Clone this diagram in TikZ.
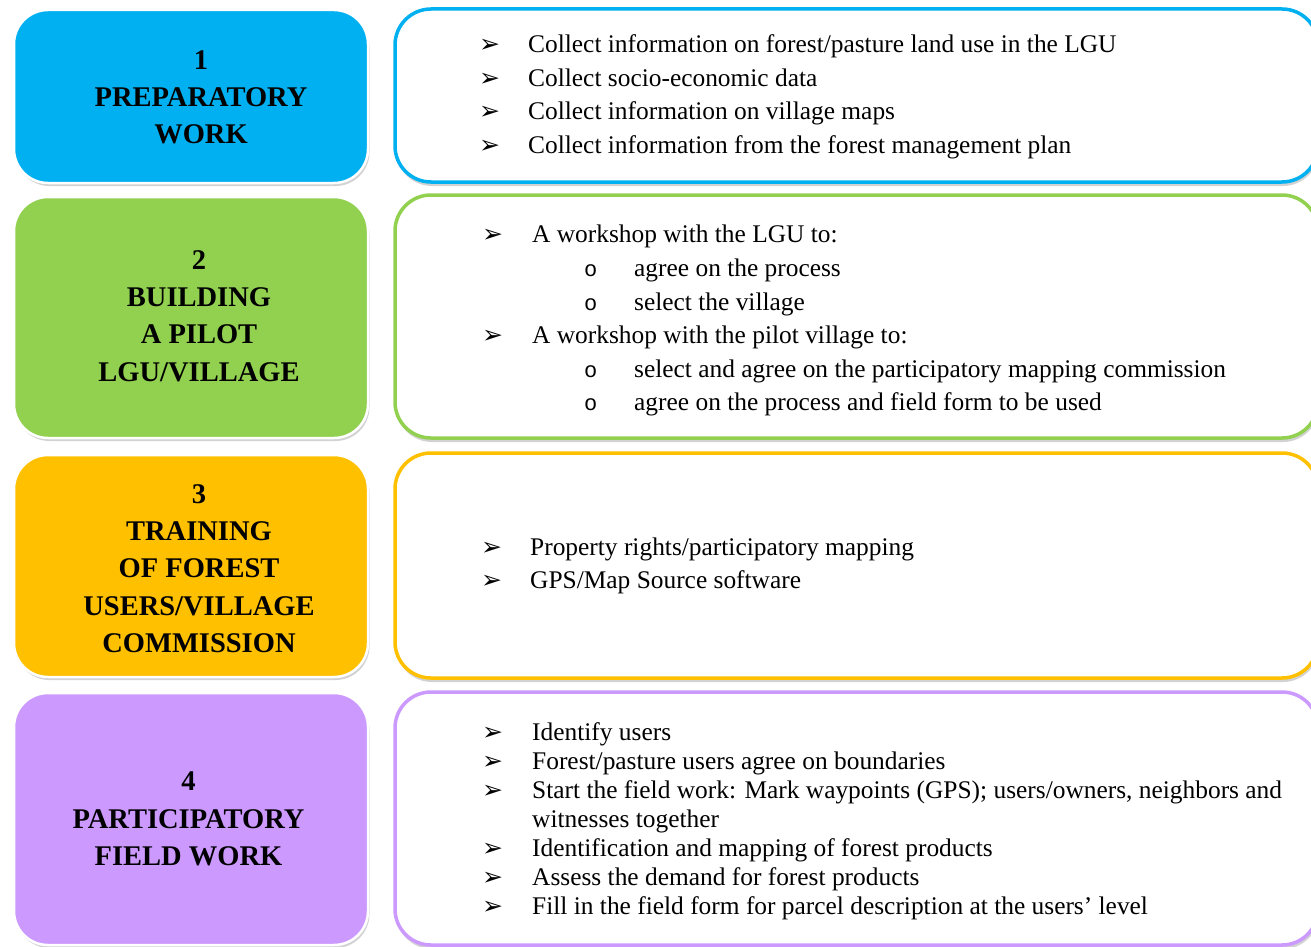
\documentclass[tikz,border=0pt]{standalone}
\usepackage{fontspec}
\setmainfont{Liberation Serif}
\newfontfamily\dvfont{DejaVu Sans}
\newfontfamily\circfont{Liberation Mono}
\usetikzlibrary{shadows}
\definecolor{cblue}{HTML}{00B0F0}
\definecolor{cgreen}{HTML}{92D050}
\definecolor{corange}{HTML}{FFC000}
\definecolor{cpurple}{HTML}{CC99FF}
\tikzset{
  lbox/.style={rectangle, rounded corners=34pt, draw=white, line width=2.5pt, inner sep=0pt,
    drop shadow={opacity=0.35, shadow xshift=1.5pt, shadow yshift=-3pt}},
  rbox/.style={rectangle, rounded corners=36pt, fill=white, line width=3.5pt, inner sep=0pt,
    drop shadow={opacity=0.35, shadow xshift=1pt, shadow yshift=-4pt}},
  ltext/.style={align=center, inner sep=0pt, font=\bfseries\fontsize{28.5}{37.3}\selectfont},
  bul/.style={anchor=base west, inner sep=0pt, font=\dvfont\fontsize{25}{28}\selectfont},
  itm/.style={anchor=base west, inner sep=0pt, font=\fontsize{25.4}{30}\selectfont},
  subb/.style={anchor=base west, inner sep=0pt, font=\circfont\fontsize{22}{25}\selectfont},
}
\newcommand{\arrowbul}{➢}
\begin{document}
\begin{tikzpicture}[x=1pt,y=-1pt]
\useasboundingbox (0,0) rectangle (1311,947);
\clip (0,0) rectangle (1311,947);
\fill[white] (0,0) rectangle (1311,947);

% left boxes
\node[lbox, fill=cblue, minimum width=354pt, minimum height=173pt] (L1) at (191,96.5) {};
\node[lbox, fill=cgreen, minimum width=354pt, minimum height=241pt] (L2) at (191,317.5) {};
\node[lbox, fill=corange, minimum width=354pt, minimum height=222pt] (L3) at (191,566) {};
\node[lbox, fill=cpurple, minimum width=354pt, minimum height=252pt] (L4) at (191,819) {};

\node[ltext] (T1) at (201,97.5) {1\\PREPARATORY\\WORK};
\node[ltext] (T2) at (199,316) {2\\BUILDING\\A PILOT\\LGU/VILLAGE};
\node[ltext] (T3) at (199,568.5) {3\\TRAINING\\OF FOREST\\USERS/VILLAGE\\COMMISSION};
\node[ltext] (T4) at (188.5,819) {4\\PARTICIPATORY\\FIELD WORK};

% right boxes
\node[rbox, draw=cblue, minimum width=923pt, minimum height=173pt] (R1) at (856.5,95.5) {};
\node[rbox, draw=cgreen, minimum width=923pt, minimum height=243pt] (R2) at (856.5,316.5) {};
\node[rbox, draw=corange, minimum width=923pt, minimum height=225pt] (R3) at (856.5,565.5) {};
\node[rbox, draw=cpurple, minimum width=923pt, minimum height=253pt] (R4) at (856.5,818.5) {};

% box 1 items
\node[bul] (b11) at (479,53) {\arrowbul};
\node[itm] (i11) at (528,53) {Collect information on forest/pasture land use in the LGU};
\node[bul] (b12) at (479,86.5) {\arrowbul};
\node[itm] (i12) at (528,86.5) {Collect socio-economic data};
\node[bul] (b13) at (479,120) {\arrowbul};
\node[itm] (i13) at (528,120) {Collect information on village maps};
\node[bul] (b14) at (479,153.5) {\arrowbul};
\node[itm] (i14) at (528,153.5) {Collect information from the forest management plan};

% box 2 items
\node[bul] (b21) at (482,242) {\arrowbul};
\node[itm] (i21) at (532,242) {A workshop with the LGU to:};
\node[subb] (s21) at (584,276.5) {o};
\node[itm] (j21) at (634,276.5) {agree on the process};
\node[subb] (s22) at (584,310) {o};
\node[itm] (j22) at (634,310) {select the village};
\node[bul] (b22) at (482,343.5) {\arrowbul};
\node[itm] (i22) at (532,343.5) {A workshop with the pilot village to:};
\node[subb] (s23) at (584,377) {o};
\node[itm] (j23) at (634,377) {select and agree on the participatory mapping commission};
\node[subb] (s24) at (584,410.5) {o};
\node[itm] (j24) at (634,410.5) {agree on the process and field form to be used};

% box 3 items
\node[bul] (b31) at (481,555) {\arrowbul};
\node[itm] (i31) at (530,555) {Property rights/participatory mapping};
\node[bul] (b32) at (481,588.5) {\arrowbul};
\node[itm] (i32) at (530,588.5) {GPS/Map Source software};

% box 4 items
\node[bul] (b41) at (482,740) {\arrowbul};
\node[itm] (i41) at (532,740) {Identify users};
\node[bul] (b42) at (482,769.5) {\arrowbul};
\node[itm] (i42) at (532,769.5) {Forest/pasture users agree on boundaries};
\node[bul] (b43) at (482,798.5) {\arrowbul};
\node[itm] (i43) at (532,798.5) {Start the field work: Mark waypoints (GPS); users/owners, neighbors and};
\node[itm] (i44) at (532,827.5) {witnesses together};
\node[bul] (b45) at (482,856.5) {\arrowbul};
\node[itm] (i45) at (532,856.5) {Identification and mapping of forest products};
\node[bul] (b46) at (482,885.5) {\arrowbul};
\node[itm] (i46) at (532,885.5) {Assess the demand for forest products};
\node[bul] (b47) at (482,914) {\arrowbul};
\node[itm] (i47) at (532,914) {Fill in the field form for parcel description at the users’ level};
\end{tikzpicture}
\end{document}
